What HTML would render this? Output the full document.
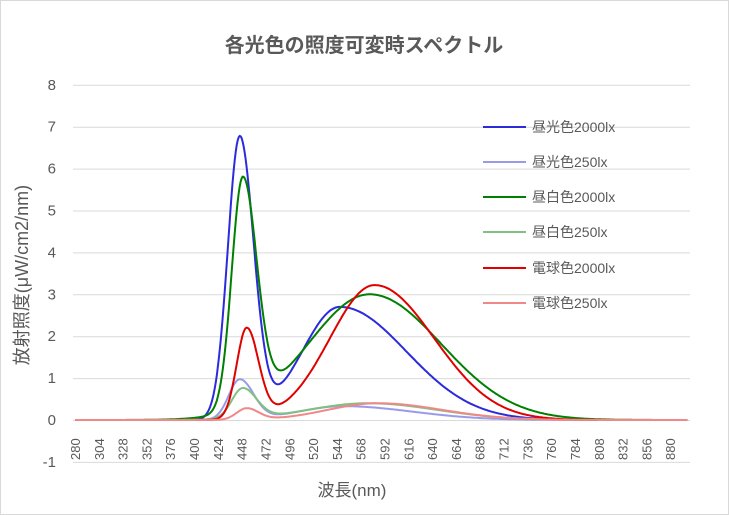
<!DOCTYPE html>
<html><head><meta charset="utf-8"><style>
body{margin:0;background:#fff;}
svg{display:block;font-family:"Liberation Sans","Noto Sans CJK JP",sans-serif;}
</style></head><body>
<svg id="s" width="729" height="515" xmlns="http://www.w3.org/2000/svg">
<rect x="0.5" y="0.5" width="728" height="514" fill="#fff" stroke="#d9d9d9"/>
<text x="364" y="52" text-anchor="middle" font-size="20" font-weight="bold" fill="#595959">各光色の照度可変時スペクトル</text>
<g id="grid" stroke="#d9d9d9" stroke-width="1"></g>
<g id="yl" font-size="15" fill="#595959" text-anchor="end"></g>
<g id="xl" font-size="13" fill="#595959"></g>
<g id="curves" fill="none" stroke-width="2"></g>
<text transform="translate(28,275) rotate(-90)" text-anchor="middle" font-size="18" fill="#595959">放射照度(μW/cm2/nm)</text>
<text x="352" y="496" text-anchor="middle" font-size="17" fill="#595959">波長(nm)</text>
<g id="leg" font-size="14" fill="#595959"></g>
</svg>
<script>
var NS="http://www.w3.org/2000/svg";
function el(p,t,a,txt){var e=document.createElementNS(NS,t);for(var k in a)e.setAttribute(k,a[k]);if(txt)e.textContent=txt;document.getElementById(p).appendChild(e);return e;}
function Y(v){return 420-v*41.9;}
function X(nm){return 75+(nm-280)*0.992;}
for(var v=-1;v<=8;v++){el("grid","line",{x1:73,x2:690,y1:Y(v)+0.5,y2:Y(v)+0.5});el("yl","text",{x:56,y:Y(v)+5},""+v);}
for(var n=280;n<=880;n+=24){var x=X(n)+5;el("xl","text",{transform:"translate("+x+",460) rotate(-90)"},""+n);}
function g(x,c,a,sl,sr){var s=x<c?sl:sr;return a*Math.exp(-(x-c)*(x-c)/(2*s*s));}
var S=[
["#2b2bdc",[446,6.7,12,14],[547,2.7,38,67],"昼光色2000lx"],
["#9a9aea",[446,0.95,11,14],[550,0.33,45,70],"昼光色250lx"],
["#008000",[449,5.45,11,14],[577,3.0,62,72],"昼白色2000lx"],
["#80c080",[449,0.72,11,14],[575,0.4,60,70],"昼白色250lx"],
["#e00000",[453,2.15,10,12],[582,3.22,45,60],"電球色2000lx"],
["#f08888",[453,0.27,10,12],[585,0.4,50,65],"電球色250lx"]];
var ly=[127,162,197,232,268,303];
S.forEach(function(s,i){var d="";for(var nm=280;nm<=897;nm+=1){var v=g(nm,s[1][0],s[1][1],s[1][2],s[1][3])+g(nm,s[2][0],s[2][1],s[2][2],s[2][3]);d+=(nm==280?"M":"L")+X(nm).toFixed(1)+","+Y(v).toFixed(1);}
el("curves","path",{d:d,stroke:s[0]});
el("leg","line",{x1:483,x2:526,y1:ly[i],y2:ly[i],stroke:s[0],"stroke-width":2});
el("leg","text",{x:532,y:ly[i]+5},s[3]);});
</script>
</body></html>
